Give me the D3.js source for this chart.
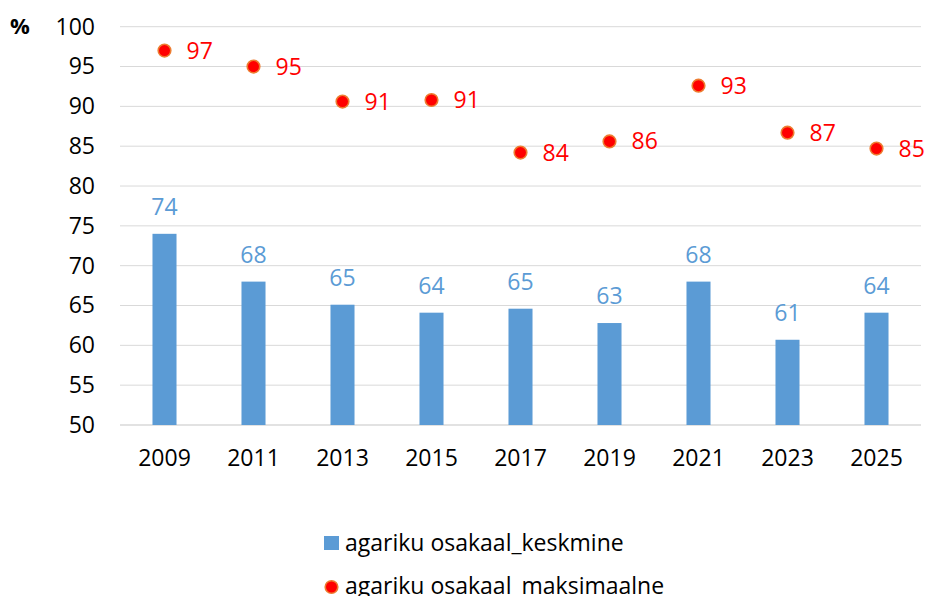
<!DOCTYPE html>
<meta charset="utf-8">
<style>
  body { margin: 0; background: #fff; }
  text { font-family: "Open Sans", "Noto Sans", sans-serif; }
</style>
<script src="https://cdn.jsdelivr.net/npm/d3@7"></script>
<div id="chart"></div>
<script>
// data
var years = ["2009", "2011", "2013", "2015", "2017", "2019", "2021", "2023", "2025"];
var keskmine = [74.0, 68.0, 65.1, 64.1, 64.6, 62.8, 68.0, 60.7, 64.1];
var maksimaalne = [97.0, 95.0, 90.6, 90.8, 84.2, 85.6, 92.6, 86.7, 84.7];
var yTicks = [50, 55, 60, 65, 70, 75, 80, 85, 90, 95, 100];
var seriesNames = ["agariku osakaal_keskmine", "agariku osakaal_maksimaalne"];

var W = 928, H = 596;
var plotLeft = 120, plotRight = 921, plotTop = 26.7, plotBottom = 425;
var fs = 23;

var svg = d3.select("#chart").append("svg")
  .attr("width", W)
  .attr("height", H);

var x = d3.scaleBand()
  .domain(years)
  .range([plotLeft, plotRight])
  .paddingInner(0.73)
  .paddingOuter(0.365);

var y = d3.scaleLinear()
  .domain([50, 100])
  .range([plotBottom, plotTop]);

// gridlines
svg.append("g")
  .selectAll("line")
  .data(yTicks)
  .enter()
  .append("line")
    .attr("x1", plotLeft)
    .attr("x2", plotRight)
    .attr("y1", function(d) { return y(d); })
    .attr("y2", function(d) { return y(d); })
    .attr("stroke", "#d9d9d9")
    .attr("stroke-width", function(d) { return d == 50 ? 1.5 : 1; });

// y axis labels
var yAxis = svg.append("g")
  .attr("transform", "translate(" + (plotLeft - 25) + ",0)")
  .call(d3.axisLeft(y).tickValues(yTicks).tickSize(0).tickPadding(0));
yAxis.select(".domain").remove();
yAxis.selectAll("text")
  .attr("font-family", "Open Sans")
  .attr("font-size", fs)
  .attr("fill", "#000");

// x axis labels
var xAxis = svg.append("g")
  .attr("transform", "translate(0," + plotBottom + ")")
  .call(d3.axisBottom(x).tickSize(0).tickPadding(25));
xAxis.select(".domain").remove();
xAxis.selectAll("text")
  .attr("font-family", "Open Sans")
  .attr("font-size", fs)
  .attr("fill", "#000");

svg.append("text")
  .attr("x", 10)
  .attr("y", 34)
  .attr("font-size", 22)
  .attr("font-weight", "bold")
  .text("%");

// bars
svg.selectAll(".bar")
  .data(keskmine)
  .enter()
  .append("rect")
    .attr("class", "bar")
    .attr("x", function(d, i) { return x(years[i]); })
    .attr("y", function(d) { return y(d); })
    .attr("width", x.bandwidth())
    .attr("height", function(d) { return y(50) - y(d); })
    .attr("fill", "#5b9bd5");

svg.selectAll(".barlabel")
  .data(keskmine)
  .enter()
  .append("text")
    .attr("class", "barlabel")
    .attr("x", function(d, i) { return x(years[i]) + x.bandwidth() / 2; })
    .attr("y", function(d) { return y(d) - 19; })
    .attr("text-anchor", "middle")
    .attr("font-size", fs)
    .attr("fill", "#5b9bd5")
    .text(function(d) { return Math.round(d); });

// points
svg.selectAll(".dot")
  .data(maksimaalne)
  .enter()
  .append("circle")
    .attr("class", "dot")
    .attr("cx", function(d, i) { return x(years[i]) + x.bandwidth() / 2; })
    .attr("cy", function(d) { return y(d); })
    .attr("r", 6.3)
    .attr("fill", "#ff0000")
    .attr("stroke", "#ed7d31")
    .attr("stroke-width", 1.6);

svg.selectAll(".dotlabel")
  .data(maksimaalne)
  .enter()
  .append("text")
    .attr("class", "dotlabel")
    .attr("x", function(d, i) { return x(years[i]) + x.bandwidth() / 2 + 22; })
    .attr("y", function(d) { return y(d); })
    .attr("dy", "0.35em")
    .attr("font-size", fs)
    .attr("fill", "#ff0000")
    .text(function(d) { return Math.round(d); });

// legend
var leg = svg.append("g");
leg.append("rect")
  .attr("x", 324)
  .attr("y", 536)
  .attr("width", 15)
  .attr("height", 14)
  .attr("fill", "#5b9bd5");
leg.append("text")
  .attr("x", 345)
  .attr("y", 551)
  .attr("font-size", fs)
  .attr("fill", "#000")
  .text(seriesNames[0]);
leg.append("circle")
  .attr("cx", 331.5)
  .attr("cy", 587)
  .attr("r", 6.3)
  .attr("fill", "#ff0000")
  .attr("stroke", "#ed7d31")
  .attr("stroke-width", 1.6);
leg.append("text")
  .attr("x", 345)
  .attr("y", 594)
  .attr("font-size", fs)
  .attr("fill", "#000")
  .text(seriesNames[1]);
</script>
